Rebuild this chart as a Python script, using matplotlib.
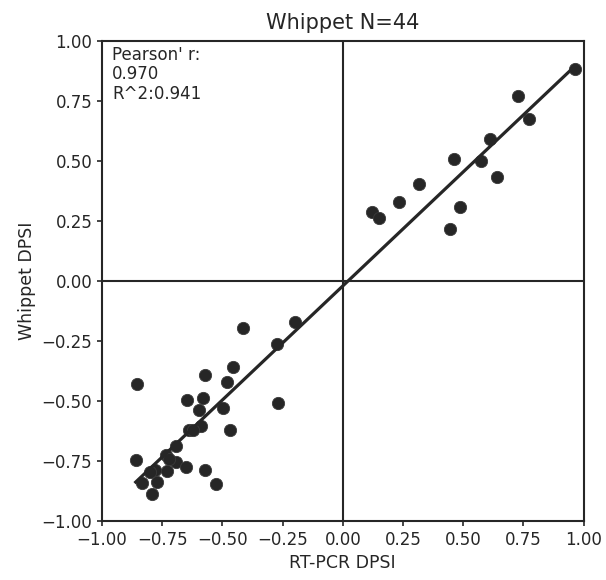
import matplotlib.pyplot as plt
import numpy as np

# RT-PCR DPSI (x) vs Whippet DPSI (y)
rtpcr = [-0.853, -0.415, -0.199, -0.274, -0.267, -0.454, -0.479, -0.572,
         -0.645, -0.579, -0.597, -0.496, -0.468, -0.589, -0.637, -0.621,
         -0.692, -0.734, -0.692, -0.720, -0.652, -0.573, -0.525, -0.860,
         -0.780, -0.800, -0.729, -0.773, -0.832, -0.793,
         0.965, 0.728, 0.774, 0.611, 0.574, 0.461, 0.642, 0.317, 0.233,
         0.123, 0.151, 0.488, 0.447]
whippet = [-0.429, -0.197, -0.172, -0.263, -0.510, -0.357, -0.420, -0.393,
           -0.495, -0.488, -0.538, -0.529, -0.621, -0.604, -0.621, -0.621,
           -0.688, -0.724, -0.754, -0.743, -0.774, -0.788, -0.847, -0.746,
           -0.788, -0.796, -0.793, -0.836, -0.840, -0.889,
           0.883, 0.772, 0.675, 0.590, 0.501, 0.510, 0.433, 0.405, 0.329,
           0.289, 0.261, 0.308, 0.218]

title = 'Whippet N=44'
stats_text = "Pearson' r:\n0.970\nR^2:0.941"
ticks = [-1.0, -0.75, -0.5, -0.25, 0.0, 0.25, 0.5, 0.75, 1.0]

x = np.array(rtpcr)
y = np.array(whippet)

fig = plt.figure(figsize=(6.06, 5.80), dpi=100)
ax = fig.add_axes([0.1683, 0.1017, 0.7946, 0.8276])

dark = '#262626'
ax.axhline(0, color=dark, lw=1.5, zorder=1)
ax.axvline(0, color=dark, lw=1.5, zorder=1)

ax.scatter(x, y, s=78, color=dark, edgecolors='#3a3a3a', linewidths=0.6, zorder=3)

# least squares fit line over the data range
slope, icpt = np.polyfit(x, y, 1)
xs = np.array([x.min(), x.max()])
ax.plot(xs, slope * xs + icpt, color=dark, lw=2.3, zorder=4)

ax.set_xlim(-1, 1)
ax.set_ylim(-1, 1)
ax.set_xticks(ticks)
ax.set_yticks(ticks)
ax.tick_params(labelsize=12, length=3.5, width=1.2, colors=dark)
for sp in ax.spines.values():
    sp.set_color(dark)
    sp.set_linewidth(1.5)

ax.set_title(title, fontsize=15, color=dark, pad=9)
ax.set_xlabel('RT-PCR DPSI', fontsize=12.5, color=dark)
ax.set_ylabel('Whippet DPSI', fontsize=12.5, color=dark)
ax.text(0.021, 0.99, stats_text, transform=ax.transAxes, va='top', ha='left',
        fontsize=12, color=dark, linespacing=1.1)

plt.savefig('out.png', dpi=100)
